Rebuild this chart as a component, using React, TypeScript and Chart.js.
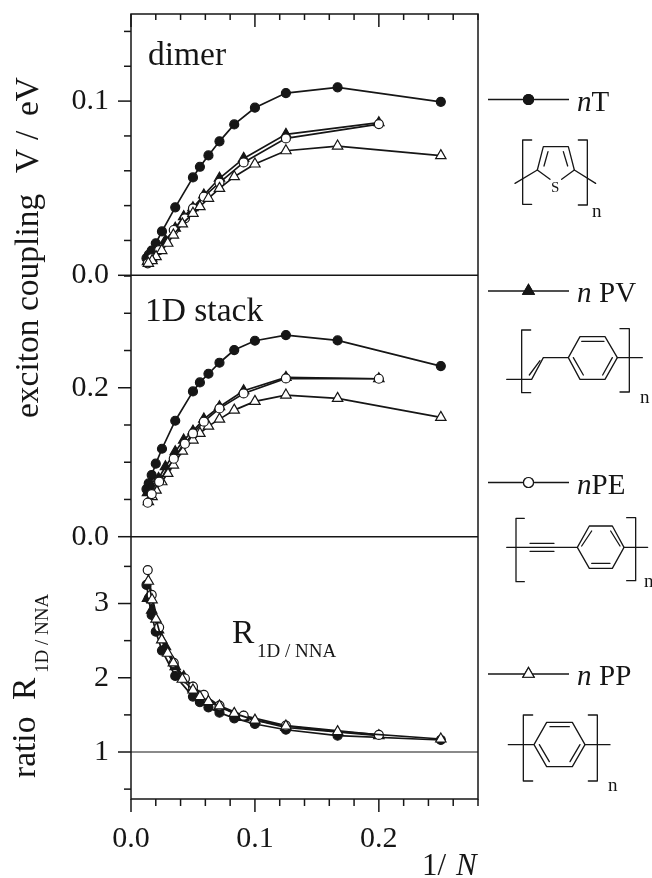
import React, { useEffect, useRef } from "react";
import { Chart, registerables } from "chart.js";
import { drawPoint } from "chart.js/helpers";

Chart.register(...registerables);

const xT = [0.25, 0.1667, 0.125, 0.1, 0.0833, 0.0714, 0.0625, 0.0556, 0.05, 0.0357, 0.025, 0.02, 0.0167, 0.0143, 0.0125];
const xPV = [0.2, 0.125, 0.0909, 0.0714, 0.0588, 0.05, 0.0425, 0.0357, 0.0278, 0.0222, 0.0167, 0.0133];
const xPE = [0.2, 0.125, 0.0909, 0.0714, 0.0588, 0.05, 0.0435, 0.0345, 0.0227, 0.0167, 0.0135];
const xPP = [0.25, 0.1667, 0.125, 0.1, 0.0833, 0.0714, 0.0625, 0.0556, 0.05, 0.0414, 0.0342, 0.0296, 0.0248, 0.0202, 0.017, 0.014];

const dimerT = [0.0996, 0.1079, 0.1046, 0.0962, 0.0866, 0.0769, 0.0688, 0.0623, 0.0562, 0.039, 0.0252, 0.0184, 0.0142, 0.0117, 0.0098];
const dimerPV = [0.0876, 0.0809, 0.0671, 0.0557, 0.0461, 0.0388, 0.0337, 0.027, 0.02, 0.0145, 0.0098, 0.0078];
const dimerPE = [0.0868, 0.0786, 0.0648, 0.0532, 0.0451, 0.0384, 0.0327, 0.026, 0.0145, 0.0098, 0.0069];
const dimerPP = [0.0687, 0.0742, 0.0715, 0.0639, 0.0566, 0.0499, 0.0442, 0.0394, 0.0356, 0.0295, 0.0231, 0.0184, 0.0142, 0.0107, 0.0084, 0.0069];

const stackT = [0.2291, 0.2635, 0.2707, 0.2631, 0.2506, 0.2336, 0.2188, 0.2072, 0.1951, 0.1557, 0.1181, 0.098, 0.0828, 0.0716, 0.064];
const stackPV = [0.2121, 0.2139, 0.196, 0.1745, 0.158, 0.1418, 0.1298, 0.1141, 0.094, 0.0783, 0.0671, 0.0591];
const stackPE = [0.2121, 0.2125, 0.1924, 0.1723, 0.1544, 0.1387, 0.1248, 0.1047, 0.0738, 0.0573, 0.0456];
const stackPP = [0.1602, 0.1857, 0.1902, 0.1817, 0.17, 0.1579, 0.1485, 0.1387, 0.1298, 0.115, 0.0962, 0.085, 0.0738, 0.0626, 0.0537, 0.047];

const ratioT = [1.162, 1.22, 1.3, 1.377, 1.454, 1.53, 1.6, 1.67, 1.746, 2.024, 2.366, 2.62, 2.846, 3.07, 3.25];
const ratioPV = [1.22, 1.33, 1.467, 1.61, 1.746, 1.86, 2.015, 2.15, 2.42, 2.644, 2.91, 3.07];
const ratioPE = [1.23, 1.355, 1.49, 1.624, 1.77, 1.88, 1.99, 2.2, 2.68, 3.116, 3.45];
const ratioPP = [1.175, 1.274, 1.35, 1.43, 1.52, 1.62, 1.68, 1.746, 1.835, 1.98, 2.2, 2.33, 2.51, 2.79, 3.05, 3.3];

const INK = "#161616";
const SERIF = '"Liberation Serif"';

type Poly = number[];
// Line drawings of the repeat units, in units of 1/3 px relative to an origin.
const thiophene: Poly[] = [
  [155, 150, 128, 150, 128, 343, 155, 343], [295, 150, 322, 150, 322, 345, 295, 345],
  [105, 280, 172, 240, 190, 170, 265, 170, 283, 240, 347, 280],
  [172, 240, 210, 268], [283, 240, 245, 268], [192, 228, 204, 185], [263, 228, 250, 185],
];
const vinylene: Poly[] = [
  [152, 720, 125, 720, 125, 908, 152, 908], [420, 716, 448, 716, 448, 906, 420, 906],
  [80, 868, 155, 868, 190, 803, 265, 803, 300, 740, 375, 740, 412, 803, 375, 868, 300, 868, 265, 803],
  [148, 855, 180, 812], [412, 803, 487, 803],
  [305, 754, 372, 754], [280, 803, 310, 855], [397, 803, 368, 855],
];
const ethynylene: Poly[] = [
  [133, 205, 108, 205, 108, 395, 133, 395], [440, 203, 467, 203, 467, 392, 440, 392],
  [80, 292, 292, 292, 328, 228, 397, 228, 432, 292, 397, 355, 328, 355, 292, 292],
  [150, 280, 222, 280], [150, 304, 222, 304], [432, 292, 503, 292],
  [305, 288, 335, 243], [420, 288, 392, 243], [335, 340, 390, 340],
];
const phenylene: Poly[] = [
  [158, 795, 130, 795, 130, 993, 158, 993], [325, 795, 352, 795, 352, 993, 325, 993],
  [85, 884, 162, 884, 200, 817, 277, 817, 315, 884, 277, 950, 200, 950, 162, 884],
  [315, 884, 390, 884], [210, 830, 268, 830], [178, 884, 208, 935], [300, 884, 270, 935],
];

const makeSet = (label: string, xs: number[], ys: number[], yAxisID: string, style: string, filled: boolean, order: number) => ({
  label,
  yAxisID,
  order,
  data: xs.map((x, i) => ({ x, y: ys[i] })),
  showLine: true,
  borderColor: INK,
  borderWidth: 1.7,
  pointStyle: style,
  pointRadius: style === "triangle" ? 6 : 4.5,
  pointBorderColor: INK,
  pointBorderWidth: 1.2,
  pointBackgroundColor: filled ? INK : "#fff",
});

const nearMultiple = (v: number, step: number) => Math.abs(v / step - Math.round(v / step)) < 1e-6;

const yScale = (min: number, max: number, step: number, major: number, weight: number, stackWeight: number, digits: number) => ({
  type: "linear" as const,
  position: "left" as const,
  stack: "panels",
  stackWeight,
  weight,
  min,
  max,
  afterFit: (s: any) => { s.width = 131; s.paddingTop = 0; s.paddingBottom = 0; },
  grid: { display: false },
  border: { display: false },
  ticks: {
    stepSize: step,
    includeBounds: false,
    autoSkip: false,
    padding: 14,
    color: INK,
    font: { family: SERIF, size: 30 },
    callback: (v: any) => (nearMultiple(Number(v), major) ? Number(v).toFixed(digits) : ""),
  },
});

const decoration = {
  id: "decoration",
  beforeDatasetsDraw(chart: any) {
    const { ctx, chartArea: a, scales } = chart;
    ctx.save();
    ctx.strokeStyle = INK;
    ctx.lineWidth = 1.5;
    const line = (x1: number, y1: number, x2: number, y2: number) => {
      ctx.beginPath();
      ctx.moveTo(x1, y1);
      ctx.lineTo(x2, y2);
      ctx.stroke();
    };
    ctx.strokeRect(a.left, a.top, a.right - a.left, a.bottom - a.top);
    scales.x.ticks.forEach((t: any) => {
      const px = scales.x.getPixelForValue(t.value);
      const big = nearMultiple(t.value, 0.1);
      line(px, a.bottom, px, a.bottom + (big ? 13 : 7));
      line(px, a.top, px, a.top + (big ? 13 : 6));
    });
    [
      { s: scales.y1, major: 0.1 },
      { s: scales.y2, major: 0.2 },
      { s: scales.y3, major: 1 },
    ].forEach(({ s, major }) => {
      s.ticks.forEach((t: any) => {
        const py = s.getPixelForValue(t.value);
        line(a.left - (nearMultiple(t.value, major) ? 13 : 7), py, a.left, py);
      });
    });
    line(a.left, scales.y1.getPixelForValue(0), a.right, scales.y1.getPixelForValue(0));
    line(a.left, scales.y2.getPixelForValue(0), a.right, scales.y2.getPixelForValue(0));
    ctx.lineWidth = 1.2;
    line(a.left, scales.y3.getPixelForValue(1), a.right, scales.y3.getPixelForValue(1));
    ctx.restore();
  },
  afterDraw(chart: any) {
    const { ctx } = chart;
    ctx.save();
    ctx.fillStyle = INK;
    ctx.strokeStyle = INK;
    ctx.textBaseline = "alphabetic";
    ctx.textAlign = "left";
    const text = (s: string, x: number, y: number, size: number, italic = false) => {
      ctx.font = `${italic ? "italic " : ""}${size}px ${SERIF}`;
      ctx.fillText(s, x, y);
    };
    const vtext = (s: string, x: number, y: number, size: number) => {
      ctx.save();
      ctx.translate(x, y);
      ctx.rotate(-Math.PI / 2);
      text(s, 0, 0, size);
      ctx.restore();
    };
    text("dimer", 148, 65, 33.5);
    text("1D stack", 145, 321, 33.5);
    text("R", 232, 643, 33.5);
    text("1D / NNA", 257, 657, 19);
    text("1/", 422, 875, 31);
    text("N", 456, 875, 31, true);

    vtext("exciton coupling", 38, 418, 33.5);
    vtext("V", 38, 173, 33.5);
    vtext("/", 38, 140, 33.5);
    vtext("eV", 38, 116, 33.5);
    vtext("ratio", 35, 778, 33.5);
    vtext("R", 35, 700, 33.5);
    vtext("1D / NNA", 48, 673, 19);

    const legend = [
      { y: 99.5, style: "circle", fill: INK, r: 5, n: "n", rest: "T", gap: 14.5 },
      { y: 291, style: "triangle", fill: INK, r: 6.5, n: "n", rest: "PV", gap: 22 },
      { y: 482.5, style: "circle", fill: "#fff", r: 5, n: "n", rest: "PE", gap: 14.5 },
      { y: 674, style: "triangle", fill: "#fff", r: 6.5, n: "n", rest: "PP", gap: 22 },
    ];
    legend.forEach((l) => {
      ctx.lineWidth = 1.5;
      ctx.beginPath();
      ctx.moveTo(488, l.y);
      ctx.lineTo(569, l.y);
      ctx.stroke();
      ctx.fillStyle = l.fill;
      ctx.lineWidth = 1.2;
      drawPoint(ctx, { pointStyle: l.style, rotation: 0, radius: l.r, borderWidth: 1.2 } as any, 528.5, l.y);
      ctx.fill();
      ctx.stroke();
      ctx.fillStyle = INK;
      text(l.n, 577, l.y + 11, 29, true);
      text(l.rest, 577 + l.gap, l.y + 11, 29);
    });

    ctx.lineWidth = 1.3;
    ctx.lineCap = "round";
    ctx.lineJoin = "round";
    const shape = (polys: Poly[], ox: number, oy: number) => {
      polys.forEach((p) => {
        ctx.beginPath();
        for (let i = 0; i < p.length; i += 2) {
          const x = ox + p[i] / 3;
          const y = oy + p[i + 1] / 3;
          if (i === 0) ctx.moveTo(x, y);
          else ctx.lineTo(x, y);
        }
        ctx.stroke();
      });
    };
    shape(thiophene, 480, 90);
    shape(vinylene, 480, 90);
    shape(ethynylene, 480, 450);
    shape(phenylene, 480, 450);
    text("S", 551, 192, 15);
    text("n", 592, 217, 19);
    text("n", 640, 403, 19);
    text("n", 644, 587, 19);
    text("n", 608, 791, 19);
    ctx.restore();
  },
};

export default function App() {
  const ref = useRef<HTMLCanvasElement>(null);
  useEffect(() => {
    document.body.style.margin = "0";
    document.body.style.background = "#fff";
    const chart = new Chart(ref.current as HTMLCanvasElement, {
      type: "scatter",
      data: {
        datasets: [
          makeSet("nT dimer", xT, dimerT, "y1", "circle", true, 4),
          makeSet("nPV dimer", xPV, dimerPV, "y1", "triangle", true, 3),
          makeSet("nPE dimer", xPE, dimerPE, "y1", "circle", false, 2),
          makeSet("nPP dimer", xPP, dimerPP, "y1", "triangle", false, 1),
          makeSet("nT stack", xT, stackT, "y2", "circle", true, 4),
          makeSet("nPV stack", xPV, stackPV, "y2", "triangle", true, 3),
          makeSet("nPP stack", xPP, stackPP, "y2", "triangle", false, 2),
          makeSet("nPE stack", xPE, stackPE, "y2", "circle", false, 1),
          makeSet("nT ratio", xT, ratioT, "y3", "circle", true, 4),
          makeSet("nPV ratio", xPV, ratioPV, "y3", "triangle", true, 3),
          makeSet("nPE ratio", xPE, ratioPE, "y3", "circle", false, 2),
          makeSet("nPP ratio", xPP, ratioPP, "y3", "triangle", false, 1),
        ] as any,
      },
      options: {
        responsive: false,
        animation: false,
        layout: { padding: { top: 14, right: 174, left: 0, bottom: 0 } },
        plugins: { legend: { display: false }, tooltip: { enabled: false } },
        scales: {
          x: {
            type: "linear",
            position: "bottom",
            min: 0,
            max: 0.28,
            afterFit: (s: any) => { s.height = 79; s.paddingRight = 0; s.paddingLeft = 0; },
            grid: { display: false },
            border: { display: false },
            ticks: {
              stepSize: 0.02,
              autoSkip: false,
              maxRotation: 0,
              padding: 14,
              color: INK,
              font: { family: SERIF, size: 30 },
              callback: (v: any) => (nearMultiple(Number(v), 0.1) ? Number(v).toFixed(1) : ""),
            },
          },
          y3: yScale(0.367, 3.9, 0.5, 1, 1, 262.3, 0),
          y2: yScale(0, 0.351, 0.05, 0.2, 2, 261.4, 1),
          y1: yScale(0, 0.15, 0.02, 0.1, 3, 261.3, 1),
        } as any,
      },
      plugins: [decoration as any],
    });
    return () => chart.destroy();
  }, []);
  return (
    <div style={{ position: "absolute", left: 0, top: 0, width: 652, height: 878, overflow: "hidden", background: "#fff" }}>
      <canvas ref={ref} width={652} height={878} style={{ display: "block" }} />
    </div>
  );
}
